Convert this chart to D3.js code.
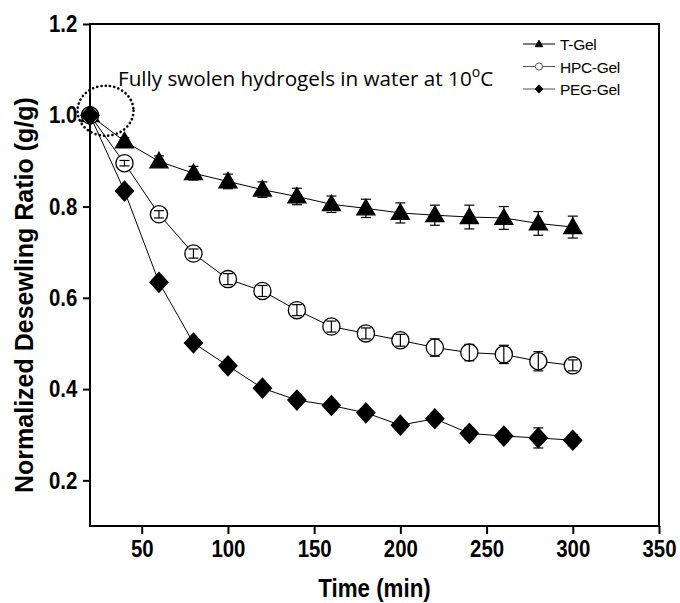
<!DOCTYPE html>
<html>
<head>
<meta charset="utf-8">
<script src="https://cdn.jsdelivr.net/npm/d3@7"></script>
<style>
  body { margin: 0; background: #fff; }
  .tick text { font-family: "Liberation Sans", Arial, sans-serif; font-weight: bold; }
</style>
</head>
<body>
<script>
const margin = { top: 24, right: 21, bottom: 77, left: 90 }
    , width = 680 - margin.left - margin.right
    , height = 603 - margin.top - margin.bottom

// data
const times = [20, 40, 60, 80, 100, 120, 140, 160, 180, 200, 220, 240, 260, 280, 300]
const tGel = [1.0, 0.943, 0.899, 0.873, 0.855, 0.837, 0.822, 0.805, 0.796, 0.786, 0.781, 0.777, 0.775, 0.763, 0.755]
const tGelErr = [0, 0.008, 0.012, 0.015, 0.016, 0.017, 0.018, 0.018, 0.02, 0.022, 0.022, 0.026, 0.025, 0.026, 0.024]
const hpcGel = [1.0, 0.895, 0.783, 0.697, 0.641, 0.615, 0.573, 0.537, 0.522, 0.507, 0.491, 0.48, 0.476, 0.461, 0.452]
const hpcGelErr = [0, 0.006, 0.008, 0.01, 0.012, 0.012, 0.012, 0.012, 0.012, 0.013, 0.019, 0.018, 0.02, 0.021, 0.012]
const pegGel = [1.0, 0.834, 0.634, 0.501, 0.451, 0.402, 0.376, 0.364, 0.348, 0.321, 0.335, 0.303, 0.297, 0.293, 0.288]
const pegGelErr = [0, 0.005, 0.006, 0.006, 0.008, 0.008, 0.008, 0.01, 0.01, 0.01, 0.01, 0.012, 0.012, 0.022, 0.012]
const xTicks = [50, 100, 150, 200, 250, 300, 350]
const yTicks = [0.2, 0.4, 0.6, 0.8, 1.0, 1.2]
const seriesNames = ['T-Gel', 'HPC-Gel', 'PEG-Gel']

const squeeze = 0.85 // condensed look of the tick labels

const svg = d3.select('body').append('svg')
    .attr('width', 680)
    .attr('height', 603)

const xScale = d3.scaleLinear()
    .domain([20, 350])
    .range([margin.left, margin.left + width])

const yScale = d3.scaleLinear()
    .domain([0.1, 1.2])
    .range([margin.top + height, margin.top])

// x axis
const xAxis = svg.append('g')
    .attr('transform', 'translate(0,' + (margin.top + height) + ')')
    .call(d3.axisBottom(xScale).tickValues(xTicks).tickSize(8).tickPadding(6))
xAxis.select('.domain').remove()
xAxis.selectAll('line').attr('stroke-width', 2)
xAxis.selectAll('text')
    .style('font-size', '24px')
    .attr('fill', '#000')
    .attr('transform', 'scale(' + squeeze + ',1)')

// y axis
const yAxis = svg.append('g')
    .attr('transform', 'translate(' + margin.left + ',0)')
    .call(d3.axisLeft(yScale).tickValues(yTicks).tickFormat(d3.format('.1f')).tickSize(7).tickPadding(8))
yAxis.select('.domain').remove()
yAxis.selectAll('line').attr('stroke-width', 2)
yAxis.selectAll('text')
    .style('font-size', '24px')
    .attr('fill', '#000')
    .attr('transform', 'scale(' + squeeze + ',1)')

// frame
svg.append('rect')
    .attr('x', margin.left)
    .attr('y', margin.top)
    .attr('width', width)
    .attr('height', height)
    .attr('fill', 'none')
    .attr('stroke', '#000')
    .attr('stroke-width', 2)

// axis titles
svg.append('text')
    .attr('transform', 'translate(' + (margin.left + width / 2) + ',597) scale(0.86,1)')
    .attr('text-anchor', 'middle')
    .style('font-family', '"Liberation Sans", Arial, sans-serif')
    .style('font-weight', 'bold')
    .style('font-size', '26px')
    .text('Time (min)')

svg.append('text')
    .attr('transform', 'translate(33,493) rotate(-90)')
    .attr('text-anchor', 'start')
    .style('font-family', '"Liberation Sans", Arial, sans-serif')
    .style('font-weight', 'bold')
    .style('font-size', '25px')
    .text('Normalized Desewling Ratio (g/g)')

const line = d3.line()
    .x((d, i) => xScale(times[i]))
    .y(d => yScale(d))

const allSeries = [
    { name: 'T-Gel', values: tGel, err: tGelErr, shape: 'triangle' },
    { name: 'HPC-Gel', values: hpcGel, err: hpcGelErr, shape: 'circle' },
    { name: 'PEG-Gel', values: pegGel, err: pegGelErr, shape: 'diamond' }
]

function markerPath(shape, s) {
    if (shape === 'triangle') return 'M0,' + (-s * 1.05) + 'L' + (s * 1.05) + ',' + (s * 0.75) + 'L' + (-s * 1.05) + ',' + (s * 0.75) + 'Z'
    if (shape === 'diamond') return 'M0,' + (-s * 1.15) + 'L' + (s * 1.05) + ',0L0,' + (s * 1.15) + 'L' + (-s * 1.05) + ',0Z'
    return d3.symbol().type(d3.symbolCircle).size(Math.PI * s * s)()
}

function drawErrors(g, series) {
    const eb = g.selectAll('.err').data(series.values.map((v, i) => [times[i], v, series.err[i]]).filter(d => d[2] > 0))
        .enter().append('g')
        .attr('stroke', '#000')
        .attr('stroke-width', 1.2)
    eb.append('line')
        .attr('x1', d => xScale(d[0])).attr('x2', d => xScale(d[0]))
        .attr('y1', d => yScale(d[1] - d[2])).attr('y2', d => yScale(d[1] + d[2]))
    eb.append('line')
        .attr('x1', d => xScale(d[0]) - 5).attr('x2', d => xScale(d[0]) + 5)
        .attr('y1', d => yScale(d[1] + d[2])).attr('y2', d => yScale(d[1] + d[2]))
    eb.append('line')
        .attr('x1', d => xScale(d[0]) - 5).attr('x2', d => xScale(d[0]) + 5)
        .attr('y1', d => yScale(d[1] - d[2])).attr('y2', d => yScale(d[1] - d[2]))
}

allSeries.forEach(series => {
    const g = svg.append('g')

    g.append('path')
        .datum(series.values)
        .attr('d', line)
        .attr('fill', 'none')
        .attr('stroke', '#000')
        .attr('stroke-width', 1)

    if (series.shape !== 'circle') drawErrors(g, series)

    g.selectAll('.pt').data(series.values)
        .enter()
        .append('path')
        .attr('transform', (d, i) => 'translate(' + xScale(times[i]) + ',' + yScale(d) + ')')
        .attr('d', markerPath(series.shape, 8.6))
        .attr('fill', series.shape === 'circle' ? '#fff' : '#000')
        .attr('stroke', '#000')
        .attr('stroke-width', 1.3)

    if (series.shape === 'circle') drawErrors(g, series)
})

// dotted circle around the starting point
svg.append('ellipse')
    .attr('cx', xScale(29))
    .attr('cy', yScale(1.01))
    .attr('rx', 28)
    .attr('ry', 25)
    .attr('fill', 'none')
    .attr('stroke', '#000')
    .attr('stroke-width', 2.6)
    .attr('stroke-linecap', 'round')
    .attr('stroke-dasharray', '0.1,4.2')

// annotation, sized so that "Fully swolen hydroge" spans about 202px like the picture
const probe = svg.append('text')
    .style('font-family', '"Open Sans", "Noto Sans", sans-serif')
    .style('font-size', '20px')
    .text('Fully swolen hydroge')
const noteSize = 20 * 202 / probe.node().getComputedTextLength()
probe.remove()

const note = svg.append('text')
    .attr('x', 118)
    .attr('y', 86)
    .style('font-family', '"Open Sans", "Noto Sans", sans-serif')
    .style('font-size', noteSize + 'px')
note.append('tspan').text('Fully swolen hydrogels in water at 10')
note.append('tspan').attr('dy', -9).style('font-size', (noteSize * 0.68) + 'px').text('o')
note.append('tspan').attr('dy', 9).text('C')

// legend
const legend = svg.append('g')
seriesNames.forEach((name, i) => {
    const s = allSeries[i]
    const ly = 44 + i * 22.5
    const lc = i === 0 ? '#000' : '#555'
    legend.append('line')
        .attr('x1', 523).attr('x2', 555)
        .attr('y1', ly).attr('y2', ly)
        .attr('stroke', lc)
        .attr('stroke-width', 1)
    legend.append('path')
        .attr('transform', 'translate(539,' + ly + ')')
        .attr('d', markerPath(s.shape, 3.6))
        .attr('fill', s.shape === 'circle' ? '#fff' : '#000')
        .attr('stroke', s.shape === 'circle' ? '#555' : '#000')
        .attr('stroke-width', 1)
    legend.append('text')
        .attr('x', 560)
        .attr('y', ly + 6)
        .style('font-family', '"Liberation Sans", Arial, sans-serif')
        .style('font-size', '15.5px')
        .style('letter-spacing', '-0.3px')
        .text(name)
})
</script>
</body>
</html>
